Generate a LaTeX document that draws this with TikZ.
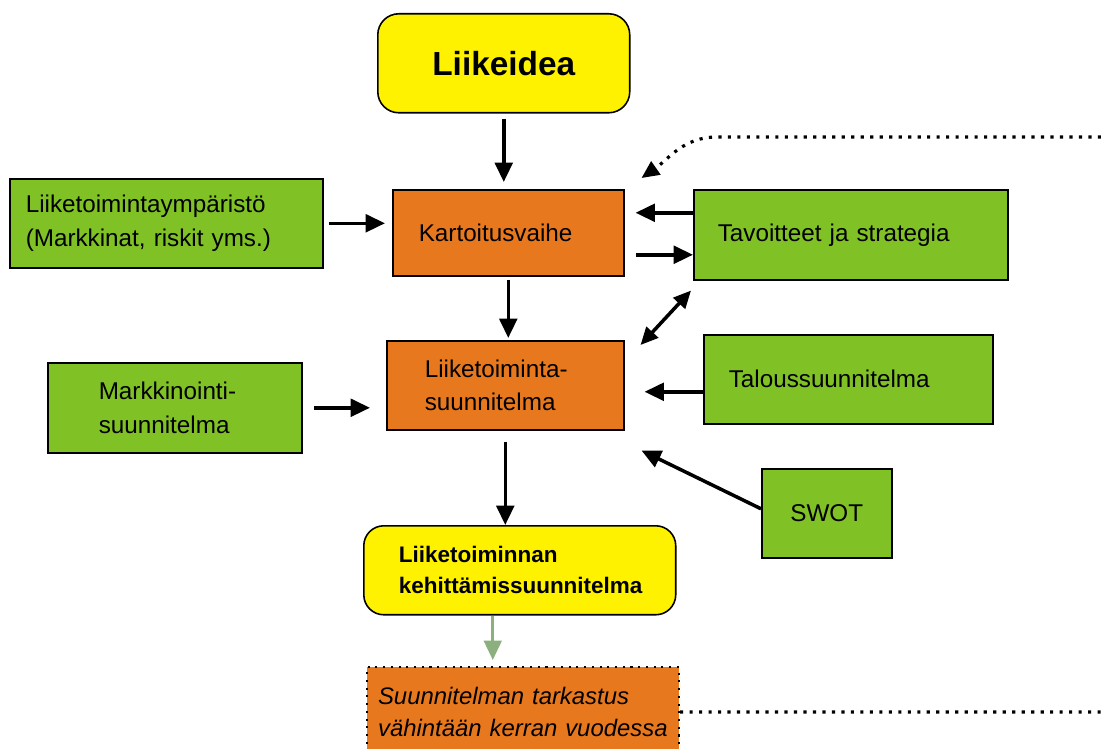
\documentclass[tikz,border=0pt]{standalone}
\usepackage{fontspec}
\setmainfont{Liberation Sans}
\usetikzlibrary{arrows.meta,calc}

\definecolor{ideayellow}{RGB}{255,242,0}
\definecolor{phaseorange}{RGB}{232,120,30}
\definecolor{inputgreen}{RGB}{128,193,38}
\definecolor{reviewgreen}{RGB}{140,176,125}

\begin{document}
\begin{tikzpicture}[x=0.02cm,y=-0.02cm,
    box/.style={draw=black, line width=0.9pt, anchor=north west, inner ysep=0pt, align=left,
      font=\fontsize{13.8}{19}\selectfont},
    greenbox/.style={box, fill=inputgreen},
    orangebox/.style={box, fill=phaseorange},
    yellowbox/.style={box, fill=ideayellow, rounded corners=0.42cm},
    arr/.style={line width=2pt, -{Triangle[length=11pt,width=10pt]}},
    dblarr/.style={line width=2pt, {Triangle[length=10pt,width=9pt]}-{Triangle[length=10pt,width=9pt]}},
    dotline/.style={line width=1.8pt, dash pattern=on 1.8pt off 3.6pt}]
      \useasboundingbox (0,0) rectangle (1101,749);
      \fill[white] (0,0) rectangle (1101,749);

      % boxes
      \node[yellowbox, align=center, minimum width=5.04cm, minimum height=1.98cm,
        font=\bfseries\fontsize{19}{22}\selectfont] (liikeidea) at (377,13) {Liikeidea};
      \node[orangebox, minimum height=1.72cm, inner xsep=0.52cm, text width=3.58cm] (kartoitus) at (392,189) {Kartoitusvaihe};
      \node[greenbox, minimum height=1.78cm, inner xsep=0.32cm, text width=5.62cm] (ymparisto) at (9,178)
        {Liiketoimintaympäristö\\(Markkinat, riskit yms.)};
      \node[greenbox, minimum height=1.8cm, inner xsep=0.48cm, text width=5.32cm] (tavoitteet) at (693,189) {Tavoitteet ja strategia};
      \node[orangebox, minimum height=1.78cm, inner xsep=0.76cm, text width=3.22cm] (liiketoiminta) at (386,340)
        {Liiketoiminta-\\suunnitelma};
      \node[greenbox, minimum height=1.8cm, inner xsep=1.02cm, text width=3.04cm] (markkinointi) at (47,362)
        {Markkinointi-\\suunnitelma};
      \node[greenbox, minimum height=1.78cm, inner xsep=0.5cm, text width=4.78cm] (talous) at (703,334) {Taloussuunnitelma};
      \node[greenbox, align=center, minimum width=2.6cm, minimum height=1.78cm] (swot) at (761,468) {SWOT};
      \node[yellowbox, rounded corners=0.4cm, minimum height=1.78cm, inner xsep=0.7cm, text width=4.84cm,
        font=\bfseries\fontsize{12.8}{17.5}\selectfont] (kehittamis) at (363,525)
        {Liiketoiminnan\\kehittämissuunnitelma};
      \node[orangebox, line width=1.2pt, dash pattern=on 1.2pt off 3.2pt, minimum height=1.8cm, inner xsep=0.22cm,
        text width=5.8cm, font=\itshape\fontsize{13.6}{18}\selectfont] (tarkastus) at (366,666)
        {Suunnitelman tarkastus\\vähintään kerran vuodessa};

      % helper points
      \coordinate (tavin) at ([yshift=0.44cm]tavoitteet.west);
      \coordinate (tavout) at ([yshift=-0.4cm]tavoitteet.west);
      \coordinate (talin) at ([yshift=-0.25cm]talous.west);
      \coordinate (reviewtop) at ([xshift=-0.54cm]kehittamis.south);
      \coordinate (loopin) at (1101,137);
      \coordinate (loopout) at (1101,712);

      % arrows
      \draw[arr, shorten <=0.1cm, shorten >=0.14cm] (liikeidea.south) -- (liikeidea.south |- kartoitus.north);
      \draw[arr, shorten <=0.06cm, shorten >=0.04cm] (kartoitus.south) -- (kartoitus.south |- liiketoiminta.north);
      \draw[arr, shorten <=0.22cm] (liiketoiminta.south) -- (liiketoiminta.south |- kehittamis.north);
      \draw[arr, reviewgreen, line width=1.7pt, shorten >=0.12cm] (reviewtop) -- (reviewtop |- tarkastus.north);
      \draw[arr, shorten <=0.1cm, shorten >=0.14cm] (ymparisto.east) -- (ymparisto.east -| kartoitus.west);
      \draw[arr, shorten <=0.22cm, shorten >=0.32cm] (markkinointi.east) -- (markkinointi.east -| liiketoiminta.west);
      \draw[arr, shorten >=0.22cm] (tavin) -- (tavin -| kartoitus.east);
      \draw[arr, shorten <=0.22cm] (tavout -| kartoitus.east) -- (tavout);
      \draw[dblarr] ([shift={(-0.04cm,-0.2cm)}]tavoitteet.south west) -- ([shift={(0.32cm,-0.1cm)}]liiketoiminta.north east);
      \draw[arr, shorten >=0.4cm] (talin) -- (talin -| liiketoiminta.east);
      \draw[arr] ([yshift=0.09cm]swot.west) -- ([shift={(0.34cm,-0.4cm)}]liiketoiminta.south east);

      % yearly loop
      \draw[dotline, -{Triangle[length=10pt,width=9pt]}] (loopin) -- (717,137)
        to[out=180,in=35] ([shift={(0.34cm,0.22cm)}]kartoitus.north east);
      \draw[dotline] (tarkastus.east) -- (loopout);
\end{tikzpicture}
\end{document}
